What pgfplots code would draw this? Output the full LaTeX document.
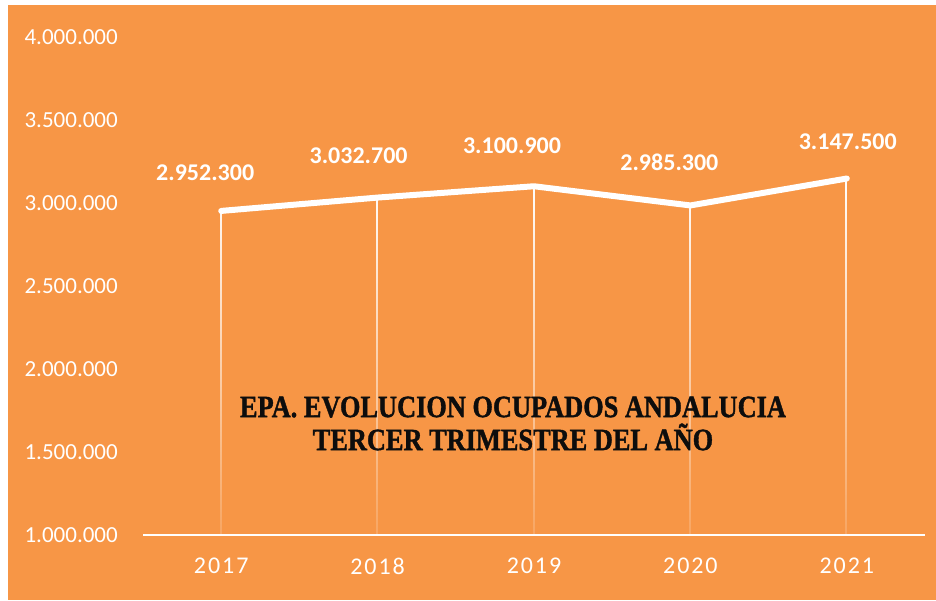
\documentclass[border=0pt]{standalone}
\usepackage{fontspec}
\setmainfont{Carlito}
\newfontfamily\titlefont[FakeStretch=0.85,FakeBold=1.2]{Liberation Serif}
\usepackage{pgfplots}
\pgfplotsset{compat=1.18}
\usepackage{pgfplotstable}
\usetikzlibrary{fadings}
\definecolor{bgorange}{HTML}{F79646}
\definecolor{titlecol}{HTML}{0D0D0D}

\tikzfading[name=dropfade, top color=transparent!0, middle color=transparent!15, bottom color=transparent!85]

\pgfplotstableread{
x y label xs ys
0 2952300 2.952.300 -16 38
1 3032700 3.032.700 -19 42
2 3100900 3.100.900 -22 41
3 2985300 2.985.300 -21 43
4 3147500 3.147.500 1 37
}\datatable

\pgfplotstableread{
x y
0 2952300
0 1000000
0 nan
1 3032700
1 1000000
1 nan
2 3100900
2 1000000
2 nan
3 2985300
3 1000000
3 nan
4 3147500
4 1000000
}\droptable

\begin{document}
\begin{tikzpicture}[x=1pt,y=1pt]
\useasboundingbox (0,0) rectangle (936,600);
\fill[white] (0,0) rectangle (936,600);
\fill[bgorange] (8,0) rectangle (936,595);
\begin{axis}[
  at={(143pt,65pt)}, anchor=south west,
  scale only axis, width=782pt, height=498pt,
  xmin=-0.5, xmax=4.5, ymin=1000000, ymax=4000000,
  clip=false,
  axis x line=bottom, axis y line=left,
  x axis line style={white, line width=2pt, -},
  y axis line style={draw=none},
  xtick={0,1,2,3,4}, xticklabels={2017,2018,2019,2020,2021},
  ytick={1000000,1500000,2000000,2500000,3000000,3500000,4000000},
  yticklabels={1.000.000,1.500.000,2.000.000,2.500.000,3.000.000,3.500.000,4.000.000},
  major tick length=0pt,
  scaled y ticks=false,
  yticklabel style={anchor=east, inner sep=0pt, xshift=-25pt, text=white, font=\fontsize{23}{23}\selectfont},
  xticklabel style={anchor=center, inner sep=0pt, yshift=-31pt, text=white, font=\fontsize{24}{24}\selectfont\addfontfeatures{LetterSpace=8}},
  unbounded coords=jump,
]
\addplot[white, line width=2pt, mark=none, path fading=dropfade] table[x=x,y=y]{\droptable};
\addplot[white, line width=6pt, line cap=round, line join=round, mark=none] table[x=x,y=y]{\datatable};
\addplot[draw=none, mark=none, nodes near coords, point meta=explicit symbolic,
  visualization depends on={\thisrow{xs} \as \xs},
  visualization depends on={\thisrow{ys} \as \ys},
  nodes near coords style={anchor=center, inner sep=0pt, xshift=\xs pt, yshift=\ys pt, text=white, font=\bfseries\fontsize{24}{24}\selectfont}]
  table[x=x,y=y,meta=label]{\datatable};
\end{axis}
\node[font=\titlefont\bfseries\fontsize{31}{33}\selectfont, align=center, text=titlecol] at (513,176.5) {EPA. EVOLUCION OCUPADOS ANDALUCIA\\TERCER TRIMESTRE DEL AÑO};
\end{tikzpicture}
\end{document}
